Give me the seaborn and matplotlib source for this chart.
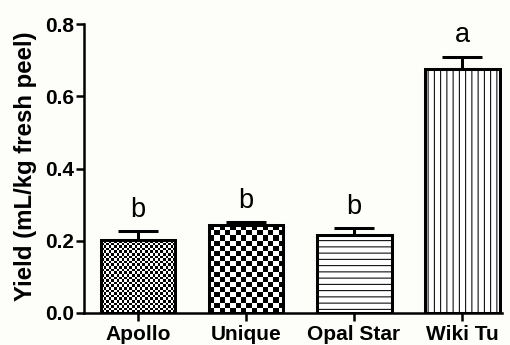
import numpy as np
import pandas as pd
import matplotlib
matplotlib.use("Agg")
import matplotlib.pyplot as plt
import seaborn as sns

# Essential-oil yield per cultivar (mean and SEM) with significance letters
cultivars = ["Apollo", "Unique", "Opal Star", "Wiki Tu"]
yield_mean = [0.202, 0.243, 0.216, 0.675]
yield_sem = [0.025, 0.010, 0.020, 0.035]
letters = ["b", "b", "b", "a"]
y_ticks = [0.0, 0.2, 0.4, 0.6, 0.8]

sns.set_theme(style="ticks")
plt.rcParams["font.family"] = ["Liberation Sans", "DejaVu Sans"]
plt.rcParams["hatch.linewidth"] = 1.0
plt.rcParams["text.color"] = "black"
plt.rcParams["axes.labelcolor"] = "black"

bg = "#fdfdf9"
fig = plt.figure(figsize=(6.8, 4.6), dpi=75, facecolor=bg)
ax = fig.add_axes([84 / 510, 32 / 345, 418 / 510, 289 / 345])
ax.set_facecolor(bg)

df = pd.DataFrame({"cultivar": cultivars, "yield": yield_mean})
sns.barplot(data=df, x="cultivar", y="yield", color="white", saturation=1,
            width=0.694, edgecolor="black", linewidth=2.9, errorbar=None, ax=ax)

ax.set_xlim(-0.5, 3.37)
ax.set_ylim(0, 0.8)

# Fill patterns: fine checker, coarse checker, horizontal lines, vertical lines
fill = [("checker", 2.6), ("checker", 5.3), ("hatch", "--"), ("hatch", "||")]
bars = list(ax.patches)
for bar, (kind, spec) in zip(bars, fill):
    if kind == "hatch":
        bar.set_hatch(spec)
        continue
    bar.set_facecolor("none")
    x0, y0 = bar.get_x(), bar.get_y()
    x1, y1 = x0 + bar.get_width(), y0 + bar.get_height()
    p0 = ax.transData.transform((x0, y0))
    p1 = ax.transData.transform((x1, y1))
    nx = max(1, int(round(abs(p1[0] - p0[0]) / spec)))
    ny = max(1, int(round(abs(p1[1] - p0[1]) / spec)))
    board = (np.add.outer(np.arange(ny), np.arange(nx)) % 2).astype(float)
    img = ax.imshow(board, cmap="gray", interpolation="nearest", origin="lower",
                    extent=(x0, x1, y0, y1), aspect="auto", zorder=0.5)
    img.set_clip_path(bar)

ax.set_xlim(-0.5, 3.37)
ax.set_ylim(0, 0.8)

positions = np.arange(len(cultivars))
ax.errorbar(positions, yield_mean, yerr=[np.zeros(len(yield_sem)), yield_sem],
            fmt="none", ecolor="black", elinewidth=2.9, capsize=19, capthick=2.9,
            zorder=3)

for i, (m, s, lab) in enumerate(zip(yield_mean, yield_sem, letters)):
    ax.annotate(lab, xy=(i, m + s), xytext=(0, 13.5), textcoords="offset points",
                ha="center", va="baseline", fontsize=26, color="black")

ax.set_yticks(y_ticks)
ax.set_yticklabels([f"{t:.1f}" for t in y_ticks])
ax.set_xlabel("")
ax.set_ylabel("Yield (mL/kg fresh peel)", fontsize=23, fontweight="bold",
              va="center", color="black")
ax.yaxis.set_label_coords(-0.141, 0.509)

for lab in ax.get_xticklabels() + ax.get_yticklabels():
    lab.set_fontweight("bold")
    lab.set_fontsize(20)
ax.tick_params(axis="both", width=2.4, length=7.7, color="black", labelcolor="black")
ax.tick_params(axis="y", pad=2)
ax.tick_params(axis="x", pad=4)

sns.despine(ax=ax)
for side in ("left", "bottom"):
    ax.spines[side].set_linewidth(2.4)
    ax.spines[side].set_color("black")

fig.savefig("out.png", dpi=75, facecolor=bg)
